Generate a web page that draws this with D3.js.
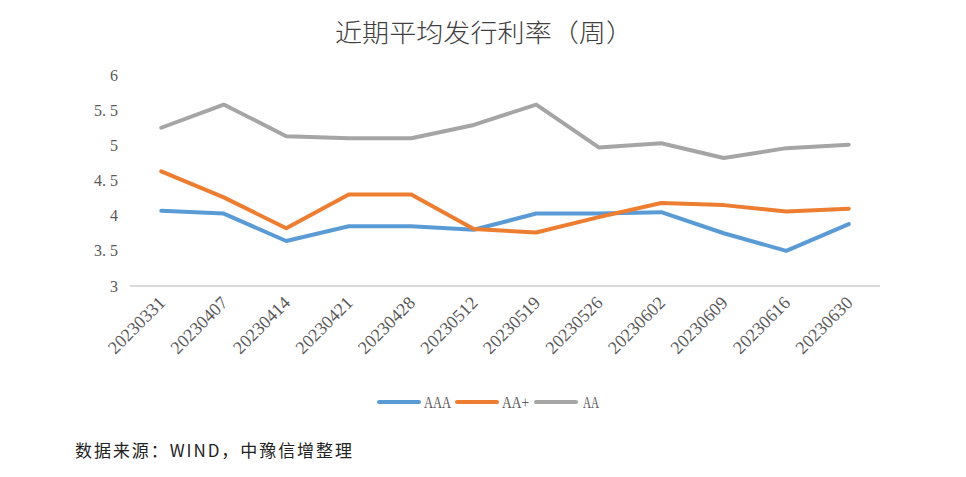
<!DOCTYPE html>
<html>
<head>
<meta charset="utf-8">
<script src="https://cdn.jsdelivr.net/npm/d3@7"></script>
<style>
  body { margin: 0; background: #fff; }
</style>
</head>
<body>
<svg class="chart"></svg>
<script>
var dates = ["20230331","20230407","20230414","20230421","20230428","20230512",
             "20230519","20230526","20230602","20230609","20230616","20230630"];
var aaa = [4.07, 4.03, 3.64, 3.85, 3.85, 3.80, 4.03, 4.03, 4.05, 3.75, 3.50, 3.88];
var aaPlus = [4.63, 4.26, 3.82, 4.30, 4.30, 3.81, 3.76, 3.98, 4.18, 4.15, 4.06, 4.10];
var aa = [5.25, 5.58, 5.13, 5.10, 5.10, 5.29, 5.58, 4.97, 5.03, 4.82, 4.96, 5.01];
var yTicks = [3, 3.5, 4, 4.5, 5, 5.5, 6];

var seriesNames = ["AAA", "AA+", "AA"];
var seriesData = [aaa, aaPlus, aa];
var colors = ["#5B9BD5", "#ED7D31", "#A5A5A5"];

var svg = d3.select(".chart")
    .attr("width", 966)
    .attr("height", 477);

var serif = "'Liberation Serif', 'DejaVu Serif', serif";
var cjk = "'Noto Sans CJK SC', sans-serif";

// title
svg.append("text")
    .attr("x", 484)
    .attr("y", 42)
    .attr("text-anchor", "middle")
    .attr("font-family", cjk)
    .attr("font-weight", 300)
    .attr("font-size", "25px")
    .attr("textLength", 298)
    .attr("lengthAdjust", "spacingAndGlyphs")
    .attr("fill", "#404040")
    .text("近期平均发行利率（周）");

var x = d3.scaleBand()
    .domain(dates)
    .range([130, 880]);

var y = d3.scaleLinear()
    .domain([3, 6])
    .range([286, 75]);

// y axis labels
svg.append("g").selectAll(".ytick").data(yTicks)
  .enter().append("text")
    .attr("class", "ytick")
    .attr("x", 118)
    .attr("y", function(d) { return y(d); })
    .attr("dy", "0.35em")
    .attr("text-anchor", "end")
    .attr("font-family", serif)
    .attr("font-size", "16px")
    .attr("fill", "#595959")
    .text(function(d) { return String(d).replace(".", ". "); });

// baseline
svg.append("line")
    .attr("x1", x.range()[0])
    .attr("x2", x.range()[1])
    .attr("y1", y(3))
    .attr("y2", y(3))
    .attr("stroke", "#D9D9D9")
    .attr("stroke-width", 2);

// x labels
svg.append("g").selectAll(".xtick").data(dates)
  .enter().append("text")
    .attr("class", "xtick")
    .attr("transform", function(d) {
      return "translate(" + (x(d) + x.bandwidth() / 2 + 5) + ",304) rotate(-45)";
    })
    .attr("text-anchor", "end")
    .attr("font-family", serif)
    .attr("font-size", "18px")
    .attr("fill", "#595959")
    .text(function(d) { return d; });

var line = d3.line()
    .x(function(d, i) { return x(dates[i]) + x.bandwidth() / 2; })
    .y(function(d) { return y(d); });

svg.append("g").selectAll(".series").data(seriesData)
  .enter().append("path")
    .attr("class", "series")
    .attr("d", function(d) { return line(d); })
    .attr("fill", "none")
    .attr("stroke", function(d, i) { return colors[i]; })
    .attr("stroke-width", 4)
    .attr("stroke-linejoin", "round")
    .attr("stroke-linecap", "round");

// legend
var legendX = [377, 455, 534];
var legendW = [27, 27, 16];
var legend = svg.append("g").selectAll(".legend").data(seriesNames)
  .enter().append("g")
    .attr("class", "legend")
    .attr("transform", function(d, i) { return "translate(" + legendX[i] + ",402)"; });

legend.append("line")
    .attr("x1", 2)
    .attr("x2", 42)
    .attr("y1", 0)
    .attr("y2", 0)
    .attr("stroke", function(d, i) { return colors[i]; })
    .attr("stroke-width", 4)
    .attr("stroke-linecap", "round");

legend.append("text")
    .attr("x", function(d, i) { return i === 2 ? 49 : 47; })
    .attr("y", 0)
    .attr("dy", "0.35em")
    .attr("font-family", serif)
    .attr("font-size", "16px")
    .attr("textLength", function(d, i) { return legendW[i]; })
    .attr("lengthAdjust", "spacingAndGlyphs")
    .attr("fill", "#595959")
    .text(function(d) { return d; });

// source note
svg.append("text")
    .attr("x", 75)
    .attr("y", 457)
    .attr("font-family", cjk)
    .attr("font-size", "17px")
    .attr("textLength", 277)
    .attr("fill", "#222")
    .text("数据来源：WIND，中豫信增整理");
</script>
</body>
</html>
